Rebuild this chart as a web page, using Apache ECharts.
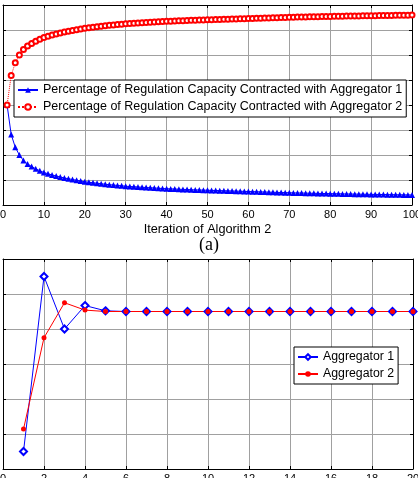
<!DOCTYPE html>
<html>
<head>
<meta charset="utf-8">
<script src="https://cdn.jsdelivr.net/npm/echarts@6/dist/echarts.min.js"></script>
<style>
  html, body { margin: 0; padding: 0; background: #fff; }
  #main { width: 418px; height: 478px; }
</style>
</head>
<body>
<div id="main"></div>
<script>
// top chart: percentage of capacity per iteration
let iterA = [];
for (let i = 1; i <= 100; i++) iterA.push(i);
let agg1Pct = [50, 38.2, 33.1, 30, 27.8, 26.4, 25.4, 24.5, 23.7, 23,
    22.5, 22, 21.6, 21.2, 20.8, 20.5, 20.2, 19.9, 19.6, 19.3,
    19.1, 18.9, 18.7, 18.5, 18.3, 18.1, 18.0, 17.8, 17.7, 17.5,
    17.4, 17.3, 17.2, 17.1, 17.0, 16.9, 16.8, 16.7, 16.6, 16.5,
    16.45, 16.4, 16.3, 16.25, 16.2, 16.1, 16.05, 16.0, 15.95, 15.9,
    15.85, 15.8, 15.75, 15.7, 15.65, 15.6, 15.55, 15.5, 15.45, 15.4,
    15.35, 15.3, 15.25, 15.2, 15.15, 15.1, 15.05, 15.0, 14.95, 14.9,
    14.85, 14.8, 14.8, 14.75, 14.7, 14.7, 14.65, 14.6, 14.6, 14.55,
    14.5, 14.5, 14.45, 14.4, 14.4, 14.35, 14.35, 14.3, 14.3, 14.25,
    14.25, 14.2, 14.2, 14.15, 14.15, 14.1, 14.1, 14.05, 14.05, 14.0];
let agg2Pct = [50, 61.8, 66.9, 70, 72.2, 73.6, 74.6, 75.5, 76.3, 77,
    77.5, 78, 78.4, 78.8, 79.2, 79.5, 79.8, 80.1, 80.4, 80.7,
    80.9, 81.1, 81.3, 81.5, 81.7, 81.9, 82.0, 82.2, 82.3, 82.5,
    82.6, 82.7, 82.8, 82.9, 83.0, 83.1, 83.2, 83.3, 83.4, 83.5,
    83.55, 83.6, 83.7, 83.75, 83.8, 83.9, 83.95, 84.0, 84.05, 84.1,
    84.15, 84.2, 84.25, 84.3, 84.35, 84.4, 84.45, 84.5, 84.55, 84.6,
    84.65, 84.7, 84.75, 84.8, 84.85, 84.9, 84.95, 85.0, 85.05, 85.1,
    85.15, 85.2, 85.2, 85.25, 85.3, 85.3, 85.35, 85.4, 85.4, 85.45,
    85.5, 85.5, 85.55, 85.6, 85.6, 85.65, 85.65, 85.7, 85.7, 85.75,
    85.75, 85.8, 85.8, 85.85, 85.85, 85.9, 85.9, 85.95, 85.95, 86.0];

// bottom chart
let iterB = [1, 2, 3, 4, 5, 6, 7, 8, 9, 10, 11, 12, 13, 14, 15, 16, 17, 18, 19, 20];
let agg1Val = [0.5, 5.5, 4.0, 4.67, 4.52, 4.5, 4.5, 4.5, 4.5, 4.5, 4.5, 4.5, 4.5, 4.5, 4.5, 4.5, 4.5, 4.5, 4.5, 4.5];
let agg2Val = [1.14, 3.75, 4.75, 4.54, 4.5, 4.5, 4.5, 4.5, 4.5, 4.5, 4.5, 4.5, 4.5, 4.5, 4.5, 4.5, 4.5, 4.5, 4.5, 4.5];

let nameA1 = 'Percentage of Regulation Capacity Contracted with Aggregator 1';
let nameA2 = 'Percentage of Regulation Capacity Contracted with Aggregator 2';

function pairs(xs, ys) {
    return xs.map(function (x, i) { return [x, ys[i]]; });
}

let font = 'Liberation Sans, Arial, sans-serif';
let gridColor = '#a0a0a0';

function mainX(idx, max, step, fs, margin) {
    return {
        type: 'value', gridIndex: idx, min: 0, max: max, interval: step,
        axisLine: { show: true, onZero: false, lineStyle: { color: '#000', width: 1 } },
        axisTick: { show: true, inside: true, length: 3, lineStyle: { color: '#000' } },
        axisLabel: { color: '#000', fontSize: fs, fontFamily: font, margin: margin },
        splitLine: { show: true, lineStyle: { color: gridColor, width: 1 } }
    };
}
function sideAxis(idx, min, max, step, pos) {
    return {
        type: 'value', gridIndex: idx, min: min, max: max, interval: step, position: pos,
        axisLine: { show: true, onZero: false, lineStyle: { color: '#000', width: 1 } },
        axisTick: { show: true, inside: true, length: 3, lineStyle: { color: '#000' } },
        axisLabel: { show: false },
        splitLine: { show: false }
    };
}
function mainY(idx, min, max, step) {
    return {
        type: 'value', gridIndex: idx, min: min, max: max, interval: step,
        axisLine: { show: true, onZero: false, lineStyle: { color: '#000', width: 1 } },
        axisTick: { show: true, inside: true, length: 3, lineStyle: { color: '#000' } },
        axisLabel: { show: false },
        splitLine: { show: true, lineStyle: { color: gridColor, width: 1 } }
    };
}

let topX = mainX(0, 100, 10, 11, 4);
topX.name = 'Iteration of Algorithm 2';
topX.nameLocation = 'middle';
topX.nameGap = 18;
topX.nameTextStyle = { color: '#000', fontSize: 12.7, fontFamily: font };

let legendBase = {
    orient: 'vertical',
    backgroundColor: '#fff', borderColor: '#000', borderWidth: 1,
    padding: [3, 4, 3, 3], itemGap: 3, itemWidth: 20, itemHeight: 7
};

let myChart = echarts.init(document.getElementById('main'));
myChart.setOption({
    animation: false,
    backgroundColor: '#fff',
    grid: [
        { left: 3, top: 5, width: 409, height: 200, outerBoundsMode: 'none' },
        { left: 3, top: 259, width: 410, height: 210, outerBoundsMode: 'none' }
    ],
    xAxis: [
        topX,
        sideAxis(0, 0, 100, 10, 'top'),
        mainX(1, 20, 2, 11, 4),
        sideAxis(1, 0, 20, 2, 'top')
    ],
    yAxis: [
        mainY(0, 10, 90, 10),
        sideAxis(0, 10, 90, 10, 'right'),
        mainY(1, 0, 6, 1),
        sideAxis(1, 0, 6, 1, 'right')
    ],
    legend: [
        Object.assign({}, legendBase, {
            left: 14, top: 80,
            data: [nameA1, nameA2],
            textStyle: { color: '#000', fontSize: 12.5, fontFamily: font, lineHeight: 14 }
        }),
        Object.assign({}, legendBase, {
            left: 294, top: 347,
            data: ['Aggregator 1', 'Aggregator 2'],
            textStyle: { color: '#000', fontSize: 12.3, fontFamily: font, lineHeight: 14 }
        })
    ],
    graphic: [
        {
            type: 'text', left: 'center', top: 236,
            style: { text: '(a)', font: '18px "Liberation Serif", "Times New Roman", serif', fill: '#000' }
        }
    ],
    series: [
        {
            name: nameA1, type: 'line', xAxisIndex: 0, yAxisIndex: 0,
            data: pairs(iterA, agg1Pct),
            symbol: 'triangle', symbolSize: 6, showAllSymbol: true,
            itemStyle: { color: '#0000ff' },
            lineStyle: { color: '#0000ff', width: 1 }
        },
        {
            name: nameA2, type: 'line', xAxisIndex: 0, yAxisIndex: 0,
            data: pairs(iterA, agg2Pct),
            symbol: 'emptyCircle', symbolSize: 5, showAllSymbol: true,
            itemStyle: { color: '#ff0000', borderWidth: 1 },
            lineStyle: { color: '#ff0000', width: 1, type: 'dotted' }
        },
        {
            name: 'Aggregator 1', type: 'line', xAxisIndex: 2, yAxisIndex: 2,
            data: pairs(iterB, agg1Val),
            symbol: 'emptyDiamond', symbolSize: 7, showAllSymbol: true,
            itemStyle: { color: '#0000ff', borderWidth: 1 },
            lineStyle: { color: '#0000ff', width: 1 }
        },
        {
            name: 'Aggregator 2', type: 'line', xAxisIndex: 2, yAxisIndex: 2,
            data: pairs(iterB, agg2Val),
            symbol: 'circle', symbolSize: 5, showAllSymbol: true,
            itemStyle: { color: '#ff0000' },
            lineStyle: { color: '#ff0000', width: 1 }
        }
    ]
});
</script>
</body>
</html>
